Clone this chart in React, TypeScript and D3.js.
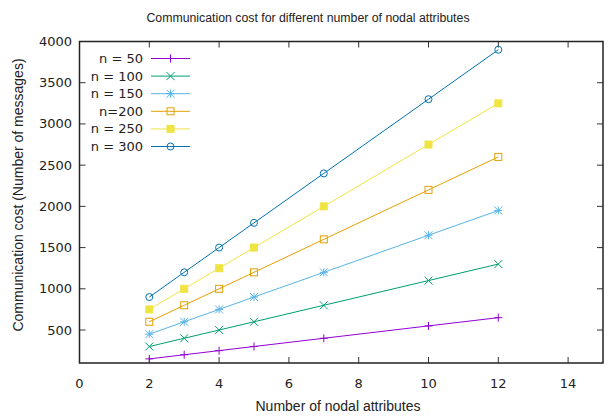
import React, { useRef, useEffect } from 'react';
import * as d3 from 'd3';

const attributes = [2, 3, 4, 5, 7, 10, 12];
const seriesNames = ['n = 50', 'n = 100', 'n = 150', 'n=200', 'n = 250', 'n = 300'];
const n50 = [150, 200, 250, 300, 400, 550, 650];
const n100 = [300, 400, 500, 600, 800, 1100, 1300];
const n150 = [450, 600, 750, 900, 1200, 1650, 1950];
const n200 = [600, 800, 1000, 1200, 1600, 2200, 2600];
const n250 = [750, 1000, 1250, 1500, 2000, 2750, 3250];
const n300 = [900, 1200, 1500, 1800, 2400, 3300, 3900];
const xTicks = [0, 2, 4, 6, 8, 10, 12, 14];
const yTicks = [500, 1000, 1500, 2000, 2500, 3000, 3500, 4000];

const colors = ['#9400d3', '#009e73', '#56b4e9', '#e69f00', '#f0e442', '#0072b2'];
const markers = ['plus', 'cross', 'star', 'square', 'fsquare', 'circle'];

const width = 614;
const height = 418;
const tickFont = '"DejaVu Sans", Verdana, sans-serif';
const labelFont = '"Liberation Sans", Arial, sans-serif';

function drawMarker(g: any, type: string, x: number, y: number, color: string) {
  const s = 4;
  if (type === 'plus' || type === 'star') {
    g.append('path').attr('d', `M${x - s},${y}H${x + s}M${x},${y - s}V${y + s}`)
      .attr('stroke', color).attr('stroke-width', 1).attr('fill', 'none');
  }
  if (type === 'cross' || type === 'star') {
    g.append('path').attr('d', `M${x - s},${y - s}L${x + s},${y + s}M${x - s},${y + s}L${x + s},${y - s}`)
      .attr('stroke', color).attr('stroke-width', 1).attr('fill', 'none');
  }
  if (type === 'square' || type === 'fsquare') {
    g.append('rect').attr('x', x - 3.5).attr('y', y - 3.5).attr('width', 7).attr('height', 7)
      .attr('stroke', color).attr('stroke-width', 1)
      .attr('fill', type === 'fsquare' ? color : 'none');
  }
  if (type === 'circle') {
    g.append('circle').attr('cx', x).attr('cy', y).attr('r', 3.5)
      .attr('stroke', color).attr('stroke-width', 1).attr('fill', 'none');
  }
}

export default function App() {
  const ref = useRef<SVGSVGElement>(null);

  useEffect(() => {
    const svg = d3.select(ref.current);
    svg.selectAll('*').remove();

    const margin = { left: 79.5, right: 11, top: 41.5, bottom: 55 };
    const x = d3.scaleLinear().domain([0, 15]).range([margin.left, width - margin.right]);
    const y = d3.scaleLinear().domain([100, 4000]).range([height - margin.bottom, margin.top]);

    const allSeries = [n50, n100, n150, n200, n250, n300];

    // ticks (inward, mirrored)
    const tickLen = 6;
    const ticks = svg.append('g').attr('stroke', '#333').attr('stroke-width', 1);
    xTicks.forEach(t => {
      ticks.append('line').attr('x1', x(t)).attr('x2', x(t)).attr('y1', y(100)).attr('y2', y(100) - tickLen);
      ticks.append('line').attr('x1', x(t)).attr('x2', x(t)).attr('y1', y(4000)).attr('y2', y(4000) + tickLen);
    });
    yTicks.forEach(t => {
      ticks.append('line').attr('x1', x(0)).attr('x2', x(0) + tickLen).attr('y1', y(t)).attr('y2', y(t));
      ticks.append('line').attr('x1', x(15)).attr('x2', x(15) - tickLen).attr('y1', y(t)).attr('y2', y(t));
    });

    // tick labels
    svg.append('g').selectAll('text').data(xTicks).enter().append('text')
      .attr('x', d => x(d)).attr('y', 388)
      .attr('text-anchor', 'middle')
      .style('font-family', tickFont).style('font-size', '13px').attr('fill', '#222')
      .text(d => d);
    svg.append('g').selectAll('text').data(yTicks).enter().append('text')
      .attr('x', 72).attr('y', d => y(d)).attr('dy', '0.35em')
      .attr('text-anchor', 'end')
      .style('font-family', tickFont).style('font-size', '13px').attr('fill', '#222')
      .text(d => d);

    // series
    const line = d3.line<number>()
      .x((d, i) => x(attributes[i]))
      .y(d => y(d));
    allSeries.forEach((vals, si) => {
      const g = svg.append('g');
      g.append('path').datum(vals).attr('d', line)
        .attr('fill', 'none').attr('stroke', colors[si]).attr('stroke-width', 1);
      vals.forEach((v, i) => drawMarker(g, markers[si], x(attributes[i]), y(v), colors[si]));
    });

    // border
    svg.append('rect')
      .attr('x', x(0)).attr('y', y(4000))
      .attr('width', x(15) - x(0)).attr('height', y(100) - y(4000))
      .attr('fill', 'none').attr('stroke', '#222').attr('stroke-width', 1.5);

    // legend
    const legend = svg.append('g');
    seriesNames.forEach((name, i) => {
      const ly = 58.5 + i * 17.6;
      legend.append('text').attr('x', 143).attr('y', ly).attr('dy', '0.35em')
        .attr('text-anchor', 'end')
        .style('font-family', tickFont).style('font-size', '13px').attr('fill', '#222')
        .text(name);
      legend.append('line').attr('x1', 151).attr('x2', 190).attr('y1', ly).attr('y2', ly)
        .attr('stroke', colors[i]).attr('stroke-width', 1);
      drawMarker(legend, markers[i], 170.5, ly, colors[i]);
    });

    // titles
    svg.append('text').attr('x', 308).attr('y', 22).attr('text-anchor', 'middle')
      .style('font-family', labelFont).style('font-size', '12.3px').attr('fill', '#222')
      .text('Communication cost for different number of nodal attributes');
    svg.append('text').attr('x', 338).attr('y', 411).attr('text-anchor', 'middle')
      .style('font-family', labelFont).style('font-size', '14px').attr('fill', '#222')
      .text('Number of nodal attributes');
    svg.append('text')
      .attr('transform', 'translate(23,195) rotate(-90)')
      .attr('text-anchor', 'middle')
      .style('font-family', labelFont).style('font-size', '14px').attr('fill', '#222')
      .text('Communication cost (Number of messages)');
  }, []);

  return (
    <svg ref={ref} width={width} height={height}
      style={{ position: 'absolute', left: 0, top: 0, background: '#fff' }}></svg>
  );
}
